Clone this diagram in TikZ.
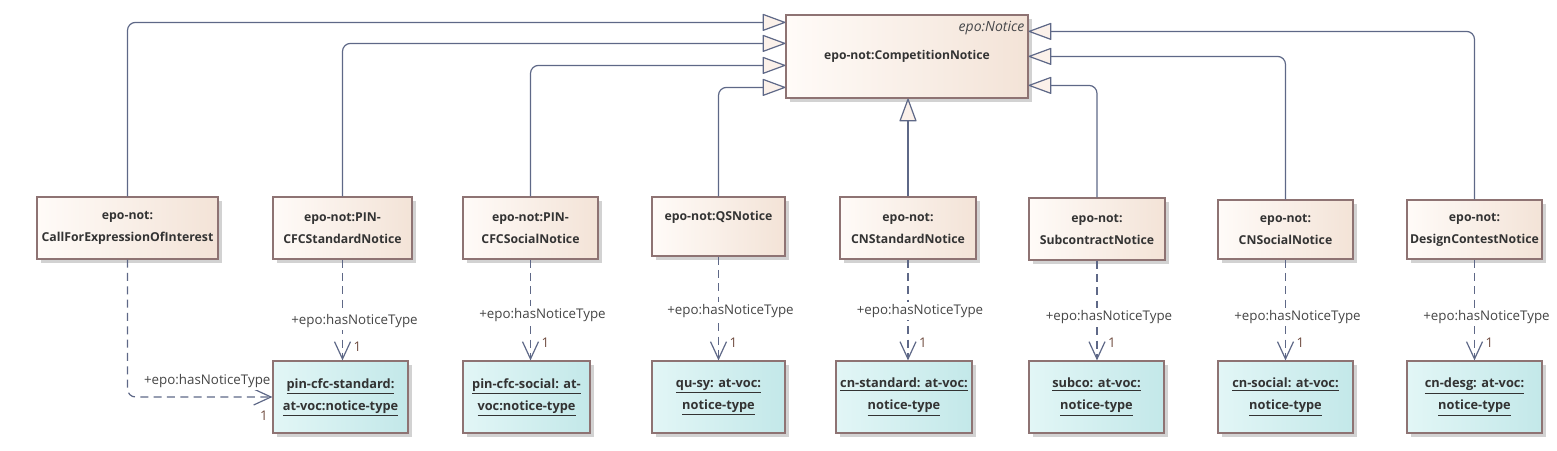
\documentclass[tikz,border=0pt]{standalone}
\usepackage{fontspec}
\setmainfont{Open Sans}
\usetikzlibrary{arrows.meta,positioning,calc,shadows}
\definecolor{NTBorder}{HTML}{8E7373}
\definecolor{NTLeft}{HTML}{FFFBF8}
\definecolor{NTRight}{HTML}{F3E3D7}
\definecolor{NTTypeLeft}{HTML}{E2F6F6}
\definecolor{NTTypeRight}{HTML}{C3E8E9}
\definecolor{NTLine}{HTML}{5E6887}
\definecolor{NTInk}{HTML}{333333}
\definecolor{NTLabel}{HTML}{454545}
\definecolor{NTMult}{HTML}{6E4A3E}
\definecolor{NTShadow}{HTML}{D2D2D2}
\definecolor{NTHead}{HTML}{FBF1EA}
\tikzset{
  gen/.style={NTLine,line width=0.9pt,rounded corners=6pt,
              -{Triangle[length=18pt,width=13pt,fill=NTHead,round]}},
  assoc/.style={NTLine,line width=0.9pt,dash pattern=on 6pt off 4pt,
                -{Straight Barb[length=13pt,width=12pt]}},
  cls/.style={draw=NTBorder,line width=0.9pt,left color=NTLeft,right color=NTRight,
              text=NTInk,align=center,minimum height=46.5pt,inner sep=2pt,
              font=\fontsize{9.2}{16.5}\selectfont\bfseries,
              drop shadow={shadow xshift=3pt,shadow yshift=-3pt,fill=NTShadow,opacity=1}},
  typ/.style={cls,left color=NTTypeLeft,right color=NTTypeRight,minimum height=54pt,
              font=\fontsize{9.6}{16.5}\selectfont\bfseries},
  stereo/.style={text=NTLabel!90!NTLine,inner sep=0pt,font=\fontsize{10.5}{12}\selectfont\itshape},
  lbl/.style={text=NTLabel,fill=white,inner xsep=1pt,inner ysep=1.5pt,
              font=\fontsize{10}{12}\selectfont},
  mult/.style={text=NTMult,inner sep=0pt,font=\fontsize{10}{12}\selectfont},
}
\begin{document}
\begin{tikzpicture}[x=0.75pt,y=-0.75pt]
  \useasboundingbox (0,0) rectangle (1557,450);
  % --- parent class ---
  \node[cls,minimum width=181.5pt,minimum height=62.25pt,
        font=\fontsize{9.1}{11}\selectfont\bfseries] (main) at (907,56.5) {epo-not:CompetitionNotice};
  \node[stereo,anchor=east] (stereo) at ($(main.north east)+(-4,14)$) {epo:Notice};

  % --- notice subclasses ---
  \node[cls,minimum width=135.75pt] (cfei)   at (127.5,228)  {epo-not:\\CallForExpressionOfInterest};
  \node[cls,minimum width=104.25pt] (pinstd) at (342.5,228)  {epo-not:PIN-\\CFCStandardNotice};
  \node[cls,minimum width=101.25pt] (pinsoc) at (530.5,228)  {epo-not:PIN-\\CFCSocialNotice};
  \node[cls,minimum width=99.75pt,minimum height=44.25pt] (qs) at (718.5,226.5) {epo-not:QSNotice\\~};
  \node[cls,minimum width=102pt]    (cnstd)  at (908,228)    {epo-not:\\CNStandardNotice};
  \node[cls,minimum width=102pt]    (subco)  at (1097,229)   {epo-not:\\SubcontractNotice};
  \node[cls,minimum width=101.25pt,minimum height=44.25pt] (cnsoc) at (1285.5,229.5) {epo-not:\\CNSocialNotice};
  \node[cls,minimum width=101.25pt,minimum height=44.25pt] (desg)  at (1474.5,229.5) {epo-not:\\DesignContestNotice};

  % --- notice type individuals ---
  \node[typ,minimum width=101.25pt] (t1) at (340.5,397)  {\underline{pin-cfc-standard:}\\\underline{at-voc:notice-type}};
  \node[typ,minimum width=95.25pt]  (t2) at (526.5,397)  {\underline{pin-cfc-social: at-}\\\underline{voc:notice-type}};
  \node[typ,minimum width=99.75pt]  (t3) at (718.5,397)  {\underline{qu-sy: at-voc:}\\\underline{notice-type}};
  \node[typ,minimum width=102pt]    (t4) at (904,397)    {\underline{cn-standard: at-voc:}\\\underline{notice-type}};
  \node[typ,minimum width=101.25pt] (t5) at (1096.5,397) {\underline{subco: at-voc:}\\\underline{notice-type}};
  \node[typ,minimum width=101.25pt] (t6) at (1285.5,397) {\underline{cn-social: at-voc:}\\\underline{notice-type}};
  \node[typ,minimum width=101.25pt] (t7) at (1474.5,397) {\underline{cn-desg: at-voc:}\\\underline{notice-type}};

  % --- generalisations into the parent ---
  \coordinate (gw1) at ($(main.north west)+(0,8)$);
  \coordinate (gw2) at ($(main.north west)+(0,29)$);
  \coordinate (gw3) at ($(main.north west)+(0,51)$);
  \coordinate (gw4) at ($(main.north west)+(0,73)$);
  \coordinate (ge1) at ($(main.north east)+(0,17)$);
  \coordinate (ge2) at ($(main.north east)+(0,42)$);
  \coordinate (ge3) at ($(main.north east)+(0,71)$);
  \draw[gen] (cfei.north) |- (gw1);
  \draw[gen] (pinstd.north) |- (gw2);
  \draw[gen] (pinsoc.north) |- (gw3);
  \draw[gen] (qs.north) |- (gw4);
  \draw[gen] (cnstd.north) -- (cnstd.north |- main.south);
  \draw[gen] (subco.north) |- (ge3);
  \draw[gen] (cnsoc.north) |- (ge2);
  \draw[gen] (desg.north) |- (ge1);

  % --- hasNoticeType associations ---
  \draw[assoc,rounded corners=6pt] (cfei.south) |- (t1.west);
  \node[lbl,anchor=east] (lab-cfei) at (272,381) {+epo:hasNoticeType};
  \node[mult] (mul-cfei) at (264,416) {1};
  \foreach \src/\dst/\lx/\ly/\my in {pinstd/t1/342.5/321/347, pinsoc/t2/530.5/315/343,
      qs/t3/718.5/311/343, cnstd/t4/908/311/343, subco/t5/1097/317/343,
      cnsoc/t6/1285.5/317/343, desg/t7/1474.5/317/343}{
    \draw[assoc] (\src.south) -- (\src.south |- \dst.north);
    \node[lbl] (lab-\src) at (\lx+12,\ly) {+epo:hasNoticeType};
    \node[mult] (mul-\src) at (\lx+15,\my) {1};
  }
\end{tikzpicture}
\end{document}
